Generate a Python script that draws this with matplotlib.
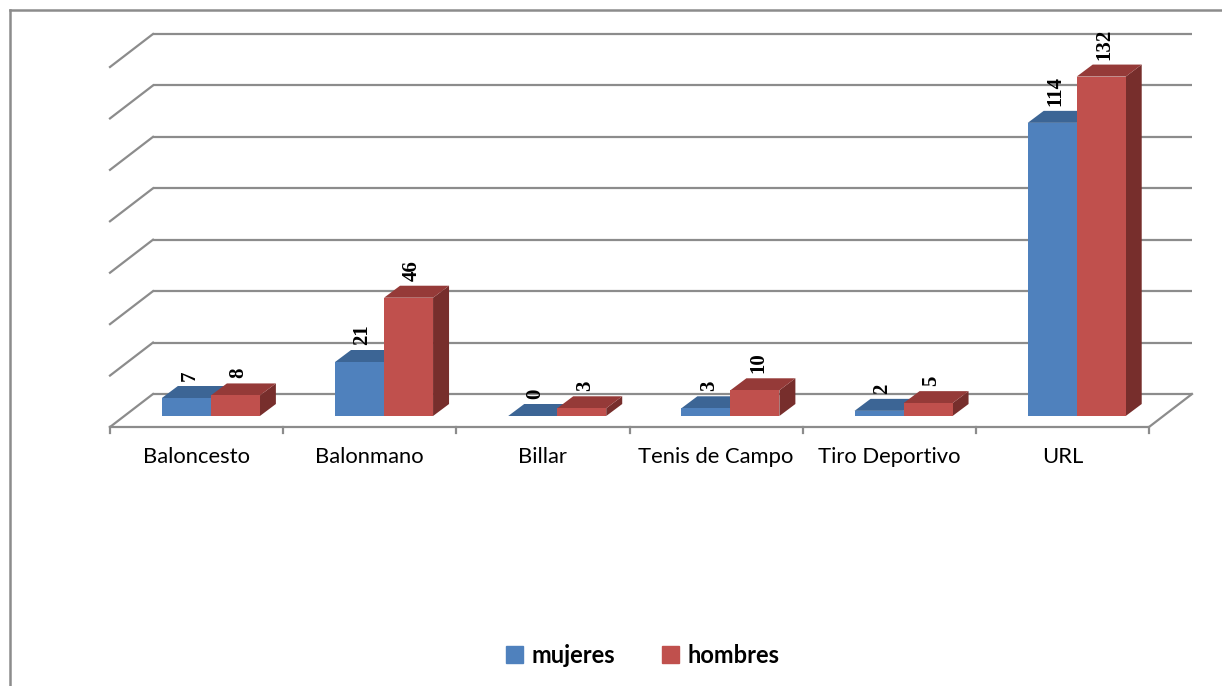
import numpy as np
import matplotlib.pyplot as plt
from matplotlib.patches import Polygon, Patch
from matplotlib.lines import Line2D

categorias = ['Baloncesto', 'Balonmano', 'Billar', 'Tenis de Campo', 'Tiro Deportivo', 'URL']
mujeres = [7, 21, 0, 3, 2, 114]
hombres = [8, 46, 3, 10, 5, 132]
series = [('mujeres', mujeres), ('hombres', hombres)]

# colores estilo Excel: frente, tapa, lado
colores = {
    'mujeres': ('#4F81BD', '#3C6595', '#35587F'),
    'hombres': ('#C0504D', '#953A38', '#772E2C'),
}
gris = '#8C8C8C'

fig = plt.figure(figsize=(12.22, 6.86), dpi=100)
# ejes = pared del fondo
ax = fig.add_axes([153 / 1222, 292 / 686, 1039 / 1222, 360 / 686])
ax.set_xlim(-0.5, 5.5)
ax.set_ylim(0, 140)
ax.axis('off')

# pixeles -> unidades de datos
px_x = 1039 / 6
px_y = 360 / 140
def d(dx, dy):
    return dx / px_x, -dy / px_y

fx, fy = d(-43, 33)       # frente del piso
bx, by = d(-28.7, 22)     # plano de las barras
kx, ky = d(16, -12)       # profundidad de la barra
w = 49 / px_x

# pared del fondo y pared izquierda
ticks = np.arange(0, 141, 20)
ax.hlines(ticks, -0.5, 5.5, color=gris, lw=1.6, clip_on=False, zorder=1)
for t in ticks:
    ax.plot([-0.5 + fx, -0.5], [t + fy, t], color=gris, lw=1.6, clip_on=False, zorder=1)
# piso
ax.plot([-0.5 + fx, 5.5 + fx, 5.5], [fy, fy, 0], color=gris, lw=1.6, clip_on=False, zorder=1)
for k in range(len(categorias) + 1):
    ax.plot([k - 0.5 + fx] * 2, [fy, fy + d(0, 6)[1]], color=gris, lw=1.6, clip_on=False, zorder=1)

x = np.arange(len(categorias)) + bx
z = 2
for i, (nombre, vals) in enumerate(series):
    c_front, c_top, c_side = colores[nombre]
    x0 = x - w + i * w
    for xi, v in zip(x0, vals):
        b = by
        top = b + v
        ax.add_patch(Polygon([(xi + w, b), (xi + w, top), (xi + w + kx, top + ky), (xi + w + kx, b + ky)],
                             closed=True, facecolor=c_side, edgecolor='none', clip_on=False, zorder=z))
        ax.add_patch(Polygon([(xi, top), (xi + w, top), (xi + w + kx, top + ky), (xi + kx, top + ky)],
                             closed=True, facecolor=c_top, edgecolor='none', clip_on=False, zorder=z))
        ax.text(xi + w / 2 + 3 / px_x, top + ky + 5 / px_y, str(v), rotation=90,
                ha='center', va='bottom', fontsize=15, fontweight='bold',
                family='Liberation Serif', zorder=10, clip_on=False)
    ax.bar(x0, vals, width=w, bottom=by, align='edge', color=c_front, zorder=z + 1, clip_on=False)
    z += 2

for k, cat in enumerate(categorias):
    ax.text(k + fx, -24.5, cat, ha='center', va='center', fontsize=15.8, family='Lato', clip_on=False)

handles = [Patch(color=colores[n][0]) for n, _ in series]
leg = fig.legend(handles, [n for n, _ in series], loc='center', bbox_to_anchor=(0.526, 0.045),
                 ncol=2, frameon=False, handlelength=0.72, handleheight=0.72, handletextpad=0.35,
                 columnspacing=2.0, prop={'family': 'Lato', 'weight': 'bold', 'size': 17})

# marco del grafico (solo se ven arriba e izquierda)
fig.add_artist(Line2D([9.5 / 1222, 9.5 / 1222], [0, 676 / 686], color=gris, lw=1.8))
fig.add_artist(Line2D([9.5 / 1222, 1], [676 / 686, 676 / 686], color=gris, lw=1.8))

plt.savefig('out.png', dpi=100)
